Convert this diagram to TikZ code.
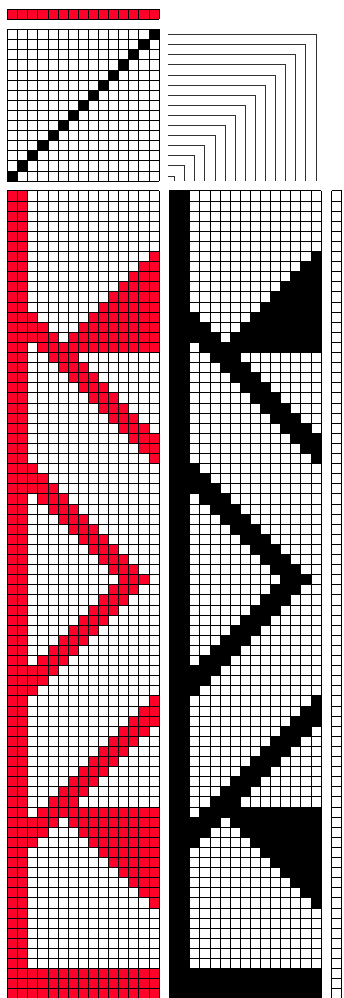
\documentclass[tikz,border=0pt]{standalone}
\definecolor{weavered}{RGB}{255,0,40}
\tikzset{gridline/.style={line width=0.3pt,draw=black},
  tieline/.style={line width=0.35pt,draw=black!80}}
\newcommand{\cw}{10.1}
% a rectangular grid: x0, y0, columns, rows
\newcommand{\gridat}[4]{%
  \foreach \i in {0,...,#3}{\draw[gridline] ({#1+\i*\cw},#2) -- ({#1+\i*\cw},{#2+#4*\cw});}
  \foreach \j in {0,...,#4}{\draw[gridline] (#1,{#2+\j*\cw}) -- ({#1+#3*\cw},{#2+\j*\cw});}
}
% row / first column / last column of each filled run of the drawdown
\newcommand{\runs}{0/0/1,1/0/1,2/0/1,3/0/1,4/0/1,5/0/1,
6/0/1,6/14/14,7/0/1,7/13/14,8/0/1,8/12/14,9/0/1,9/11/14,10/0/1,10/10/14,11/0/1,11/9/14,
12/0/2,12/8/14,13/0/3,13/7/14,14/0/4,14/6/14,15/0/1,15/3/14,
16/0/1,16/4/6,17/0/1,17/5/7,18/0/1,18/6/8,19/0/1,19/7/9,20/0/1,20/8/10,21/0/1,21/9/11,
22/0/1,22/10/12,23/0/1,23/11/13,24/0/1,24/12/14,25/0/1,25/13/14,26/0/1,26/14/14,
27/0/2,28/0/3,29/0/4,30/0/1,30/3/5,31/0/1,31/4/6,32/0/1,32/5/7,33/0/1,33/6/8,34/0/1,34/7/9,
35/0/1,35/8/10,36/0/1,36/9/11,37/0/1,37/10/12,38/0/1,38/11/13,39/0/1,39/10/12,40/0/1,40/9/11,
41/0/1,41/8/10,42/0/1,42/7/9,43/0/1,43/6/8,44/0/1,44/5/7,45/0/1,45/4/6,46/0/1,46/3/5,
47/0/4,48/0/3,49/0/2,50/0/1,50/14/14,51/0/1,51/13/14,52/0/1,52/12/14,53/0/1,53/11/13,
54/0/1,54/10/12,55/0/1,55/9/11,56/0/1,56/8/10,57/0/1,57/7/9,58/0/1,58/6/8,59/0/1,59/5/7,
60/0/1,60/4/6,61/0/1,61/3/14,62/0/4,62/6/14,63/0/3,63/7/14,64/0/2,64/8/14,
65/0/1,65/9/14,66/0/1,66/10/14,67/0/1,67/11/14,68/0/1,68/12/14,69/0/1,69/13/14,70/0/1,70/14/14,
71/0/1,72/0/1,73/0/1,74/0/1,75/0/1,76/0/1,77/0/14,78/0/14,79/0/14}
\newcommand{\drawdown}[3]{%
  \foreach \r/\a/\b in \runs {
    \fill[#3] ({#1+\a*\cw},{#2+\r*\cw}) rectangle ({#1+(\b+1)*\cw},{#2+(\r+1)*\cw});
  }
  \gridat{#1}{#2}{15}{80}
}
\begin{document}
\begin{tikzpicture}[x=1pt,y=-1pt]
\useasboundingbox (0,0) rectangle (343,998);
\clip (0,0) rectangle (343,998);
\fill[white] (0,0) rectangle (343,998);
% top colour bar
\fill[weavered] (7.3,9.3) rectangle ({7.3+15*\cw},{9.3+\cw});
\gridat{7.3}{9.3}{15}{1}
% threading
\foreach \k in {0,...,14}{
  \fill[black] ({7.3+(14-\k)*\cw},{29.3+\k*\cw}) rectangle ({7.3+(15-\k)*\cw},{29.3+(\k+1)*\cw});
}
\gridat{7.3}{29.3}{15}{15}
% tie-up connectors
\foreach \k in {0,...,14}{
  \draw[tieline] (168,{29.3+(\k+.5)*\cw}) -| ({169.3+(14.5-\k)*\cw},181);
}
% drawdowns
\drawdown{7.3}{190.6}{weavered}
\drawdown{169.3}{190.6}{black}
% right column
\gridat{331.5}{190.6}{1}{80}
\end{tikzpicture}
\end{document}
